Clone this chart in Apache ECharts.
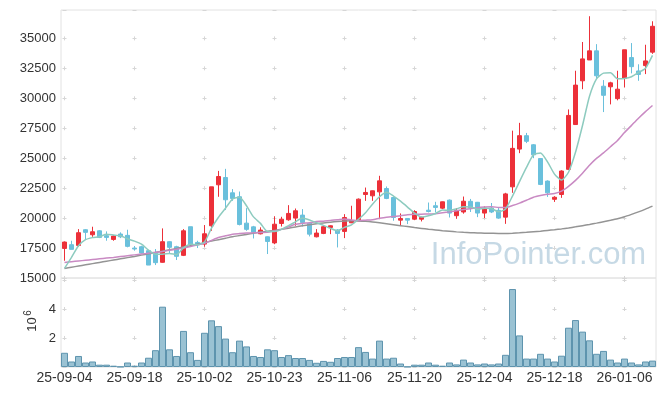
<!DOCTYPE html>
<html>
<head>
<meta charset="utf-8">
<script src="https://cdn.jsdelivr.net/npm/echarts@6/dist/echarts.min.js"></script>
<style>
html,body{margin:0;padding:0;background:#fff;}
#main{width:665px;height:396px;}
</style>
</head>
<body>
<div id="main"></div>
<script>
const dates = ['25-09-04','25-09-05','25-09-08','25-09-09','25-09-10','25-09-11','25-09-12','25-09-15','25-09-16','25-09-17',
'25-09-18','25-09-19','25-09-22','25-09-23','25-09-24','25-09-25','25-09-26','25-09-29','25-09-30','25-10-01',
'25-10-02','25-10-10','25-10-13','25-10-14','25-10-15','25-10-16','25-10-17','25-10-20','25-10-21','25-10-22',
'25-10-23','25-10-24','25-10-27','25-10-28','25-10-29','25-10-30','25-10-31','25-11-03','25-11-04','25-11-05',
'25-11-06','25-11-07','25-11-10','25-11-11','25-11-12','25-11-13','25-11-14','25-11-17','25-11-18','25-11-19',
'25-11-20','25-11-21','25-11-24','25-11-25','25-11-26','25-11-27','25-11-28','25-12-01','25-12-02','25-12-03',
'25-12-04','25-12-05','25-12-08','25-12-09','25-12-10','25-12-11','25-12-12','25-12-15','25-12-16','25-12-17',
'25-12-18','25-12-19','25-12-22','25-12-23','25-12-24','25-12-26','25-12-29','25-12-30','26-01-02','26-01-05',
'26-01-06','26-01-07','26-01-08','26-01-09','26-01-12'];

const openP = [17470,17780,17720,19030,18610,18940,18530,18220,18670,18560,
17500,17610,17280,17060,16310,18030,17610,16890,19280,17970,
17830,19360,22780,23390,22110,21780,19580,19270,18690,18440,
17930,19550,19860,20000,20250,19580,18440,18720,19220,19000,
18890,19610,19780,21970,21860,22190,22470,21720,19830,19970,
19910,19910,20660,21030,20830,21500,20200,20510,21400,21320,
20420,20840,20650,20080,22610,25760,26880,26120,24970,23090,
21570,21970,24070,27810,31460,33200,33960,31010,30960,29970,
31660,33400,32280,32730,33850];

const closeP = [18000,17390,18780,18810,18860,18390,18390,18500,18440,17640,
17420,17080,16080,16280,18030,17560,16810,18940,17780,17780,
18690,22610,23470,21530,21640,19470,19060,18820,19000,18050,
19490,19910,20390,20610,19640,18660,18750,19280,19360,18720,
20050,19780,21580,22140,22280,23110,21640,20050,19970,19830,
20550,20050,20550,20890,21360,20420,20620,21410,20840,20420,
20840,20510,20000,22020,25820,26880,26410,25280,22810,22110,
21740,23930,28570,31100,33290,33960,31880,30250,31290,30760,
34050,32640,31990,33120,36010];

const lowP = [16440,17390,17610,18170,18440,18330,18110,18110,18330,17560,
17280,17030,16080,16080,16280,17000,16500,16830,17670,17500,
17610,18940,21780,20670,21440,19390,18940,18300,18640,17000,
17820,19300,19780,19360,19300,18470,18390,18660,18660,17550,
18330,19580,19750,21440,21440,19910,21580,19780,19360,19500,
19830,19720,20470,20470,20750,20050,19940,20370,20510,20080,
20000,20420,19940,19520,22110,25420,26260,25000,22750,21770,
21350,21690,24020,27800,30760,33200,31660,28850,29490,29830,
30900,32080,31460,32020,33710];

const highP = [18050,18110,19080,19080,19280,19000,18890,18560,18810,19030,
17670,17690,17330,17420,19140,18060,17690,19080,19280,18110,
19420,22610,23940,24110,22420,22220,20830,19350,19230,18470,
20150,20110,21080,20800,20750,19640,19080,19410,19390,19080,
20330,21030,21640,22550,22300,23530,22640,21780,20390,20000,
20660,20140,21300,21360,21380,21550,20840,21800,21600,21350,
20980,21260,20840,22110,27300,27950,27110,26180,25000,23150,
21830,23990,29070,32300,34700,36850,34520,31520,31380,32300,
34050,34610,32840,34470,36430];

const ma5 = [15800,16720,17690,18200,18370,18450,18650,18590,18520,18270,
18080,17820,17330,16980,16980,17050,16950,17520,17820,17770,
18000,19160,20070,20820,21590,21740,21030,20100,19560,18880,
18880,19060,19370,19690,20010,19840,19610,19390,19140,18950,
19230,19440,19900,20450,21160,21780,22150,21840,21410,20920,
20410,20090,20190,20380,20680,20650,20770,20940,20930,20740,
20830,20800,20520,20760,21840,23050,24230,25280,25440,24700,
23670,23170,23830,25490,27730,30170,31620,32100,32140,31630,
31650,31800,32150,32510,33580];

const ma20 = [16300,16360,16420,16480,16540,16600,16660,16720,16790,16860,
16930,17000,17070,17140,17220,17310,17400,17500,17620,17760,
17900,18140,18380,18520,18660,18710,18750,18770,18800,18820,
18920,19060,19270,19480,19560,19620,19710,19740,19810,19860,
19930,19850,19800,19830,19860,19980,20080,20140,20190,20270,
20320,20330,20340,20360,20440,20520,20610,20720,20790,20870,
20920,20950,20890,20880,21050,21250,21490,21740,21880,21990,
22060,22250,22650,23150,23750,24420,24990,25440,25960,26480,
27140,27740,28340,28890,29400];

const ma60 = [15800,15900,16000,16100,16200,16300,16400,16500,16600,16700,
16800,16910,17020,17130,17240,17350,17460,17580,17700,17820,
17950,18080,18200,18320,18440,18540,18640,18740,18830,18900,
18970,19060,19160,19260,19360,19450,19530,19600,19660,19710,
19750,19770,19760,19730,19680,19610,19530,19450,19370,19290,
19210,19140,19070,19010,18950,18900,18850,18810,18780,18760,
18740,18730,18720,18720,18740,18770,18810,18860,18910,18970,
19030,19100,19180,19270,19370,19470,19580,19700,19820,19950,
20110,20310,20520,20750,21000];

const volumeM = [0.98,0.38,0.76,0.31,0.38,0.16,0.16,0.09,0.02,0.31,
0.09,0.31,0.64,1.16,4.16,1.22,0.76,2.49,1.02,0.49,
2.36,3.22,2.82,1.96,1.02,1.82,1.42,0.76,0.69,1.22,
1.16,0.69,0.82,0.62,0.62,0.49,0.29,0.42,0.36,0.62,
0.69,0.69,1.37,1.04,0.58,1.82,0.58,0.64,0.24,0.02,
0.16,0.16,0.31,0.16,0.09,0.31,0.18,0.51,0.31,0.18,
0.24,0.18,0.24,0.84,5.38,2.18,0.58,0.58,0.91,0.58,
0.38,0.78,2.71,3.24,2.44,1.84,0.91,1.11,0.51,0.31,
0.58,0.31,0.18,0.38,0.44];

const priceTicks = {min: 15000, max: 37370, step: 2500};
const volTicks = {min: 0, max: 6.14, step: 2, shown: [2, 4]};

const FONT = "'Liberation Sans', Arial, sans-serif";
const UP = '#ec3039', DOWN = '#6ac0dc';
const GRIDC = '#d6d6d6';

const candleData = dates.map((d, i) => [openP[i], closeP[i], lowP[i], highP[i]]);

const chart = echarts.init(document.getElementById('main'), null, {renderer: 'canvas'});

const xCommon = {
  type: 'category',
  data: dates,
  boundaryGap: true,
  axisLine: {show: false},
  axisTick: {show: false}
};

chart.setOption({
  animation: false,
  backgroundColor: '#fff',
  textStyle: {fontFamily: FONT},
  grid: [
    {left: 61, top: 10, width: 595, height: 268, show: true, borderColor: '#e2e2e2', borderWidth: 1},
    {left: 61, top: 278, width: 595, height: 89, show: true, borderColor: '#e2e2e2', borderWidth: 1}
  ],
  xAxis: [
    Object.assign({}, xCommon, {
      gridIndex: 0,
      axisLabel: {show: false, interval: 9},
      splitLine: {show: true, interval: 9, alignWithLabel: true,
        lineStyle: {color: GRIDC, width: 1, type: [4, 25.95], dashOffset: 3.55}}
    }),
    Object.assign({}, xCommon, {
      gridIndex: 1,
      axisLabel: {show: true, interval: 9, fontSize: 14, color: '#333', margin: 4, fontFamily: FONT},
      splitLine: {show: true, interval: 9, alignWithLabel: true,
        lineStyle: {color: GRIDC, width: 1, type: [4, 24.99], dashOffset: 0}}
    })
  ],
  yAxis: [
    {
      gridIndex: 0, type: 'value', min: priceTicks.min, max: priceTicks.max, interval: priceTicks.step,
      axisLine: {show: false}, axisTick: {show: false},
      axisLabel: {fontSize: 13, color: '#333', margin: 5, showMaxLabel: false, fontFamily: FONT,
        formatter: v => String(Math.round(v))},
      splitLine: {show: true, lineStyle: {color: GRIDC, width: 1, type: [4, 66], dashOffset: 68.5}}
    },
    {
      gridIndex: 1, type: 'value', min: volTicks.min, max: volTicks.max, interval: volTicks.step,
      axisLine: {show: false}, axisTick: {show: false},
      axisLabel: {fontSize: 13, color: '#333', margin: 5, fontFamily: FONT,
        formatter: v => (volTicks.shown.indexOf(v) >= 0 ? String(v) : '')},
      splitLine: {show: true, lineStyle: {color: GRIDC, width: 1, type: [4, 66], dashOffset: 68.5}}
    }
  ],
  graphic: [
    {type: 'text', x: 538.5, y: 255, z: 0, silent: true,
      style: {text: 'InfoPointer.com', fill: '#c6d9e5', font: "31px 'Liberation Sans', Arial, sans-serif",
        align: 'center', verticalAlign: 'middle'}},
    {type: 'text', x: 32.5, y: 324.5, rotation: Math.PI / 2, silent: true,
      style: {text: '10', fill: '#333', font: "13px 'Liberation Sans', Arial, sans-serif",
        align: 'center', verticalAlign: 'middle'}},
    {type: 'text', x: 28.5, y: 313, rotation: Math.PI / 2, silent: true,
      style: {text: '6', fill: '#333', font: "10px 'Liberation Sans', Arial, sans-serif",
        align: 'center', verticalAlign: 'middle'}}
  ],
  series: [
    {
      name: 'price', type: 'candlestick', xAxisIndex: 0, yAxisIndex: 0,
      data: candleData, barWidth: 5,
      itemStyle: {color: UP, color0: DOWN, borderColor: UP, borderColor0: DOWN, borderWidth: 1}
    },
    {
      name: 'MA60', type: 'line', xAxisIndex: 0, yAxisIndex: 0, data: ma60,
      showSymbol: false, smooth: 0.2, lineStyle: {color: '#949494', width: 1.5}
    },
    {
      name: 'MA20', type: 'line', xAxisIndex: 0, yAxisIndex: 0, data: ma20,
      showSymbol: false, smooth: 0.2, lineStyle: {color: '#c98ac3', width: 1.5}
    },
    {
      name: 'MA5', type: 'line', xAxisIndex: 0, yAxisIndex: 0, data: ma5,
      showSymbol: false, smooth: 0.2, lineStyle: {color: '#8dcbbf', width: 1.5}
    },
    {
      name: 'volume', type: 'bar', xAxisIndex: 1, yAxisIndex: 1, data: volumeM,
      barWidth: 7, barGap: '0%', barCategoryGap: '0%',
      itemStyle: {color: '#9ac2d3', borderColor: '#5e94ae', borderWidth: 1}
    }
  ]
});
</script>
</body>
</html>
